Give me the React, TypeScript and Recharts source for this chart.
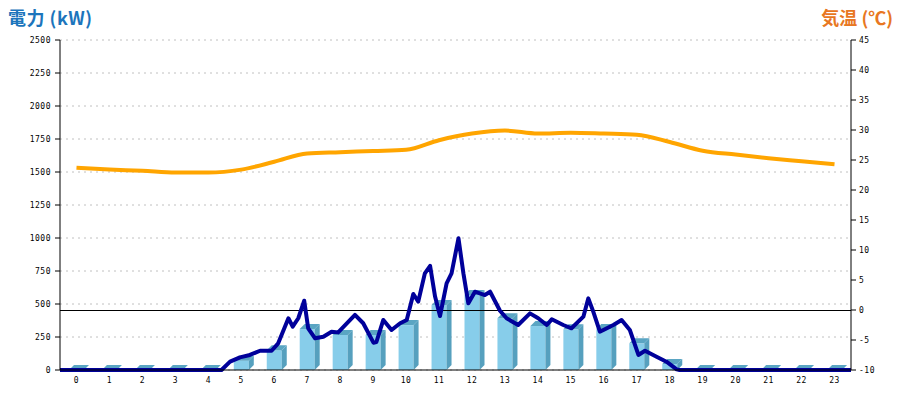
import React from 'react'
import {
  ComposedChart,
  Bar,
  Line,
  XAxis,
  YAxis,
  CartesianGrid,
  ReferenceLine,
} from 'recharts'

// hourly categories
const hours = Array.from({ length: 24 }, (_, i) => String(i))

// hourly power (kW), bars
const hourlyPower = [0, 0, 0, 0, 0, 70, 150, 310, 265, 265, 340, 492, 568, 392, 333, 308, 310, 202, 45, 0, 0, 0, 0, 0]

// hourly temperature (°C)
const hourlyTemp = [23.7, 23.4, 23.2, 22.9, 22.9, 23.4, 24.7, 26.1, 26.3, 26.5, 26.7, 28.3, 29.4, 29.9, 29.4, 29.55, 29.4, 29.2, 28.0, 26.55, 25.9, 25.3, 24.8, 24.3]

// detailed power line: time in hours and value in kW
const powerTimes = [0, 4.9, 5.16, 5.46, 5.76, 6.07, 6.42, 6.62, 6.93, 7.06, 7.23, 7.41, 7.53, 7.74, 7.99, 8.24, 8.44, 8.95, 9.2, 9.51, 9.6, 9.81, 10.06, 10.32, 10.52, 10.72, 10.87, 11.07, 11.23, 11.38, 11.53, 11.73, 11.88, 12.09, 12.24, 12.39, 12.59, 12.89, 13.05, 13.35, 13.55, 13.9, 14.26, 14.51, 14.77, 14.92, 15.27, 15.52, 15.88, 16.03, 16.18, 16.38, 16.79, 17.04, 17.29, 17.55, 17.75, 18.1, 18.4, 18.71, 18.8, 24]
const powerValues = [0, 0, 63, 96, 114, 146, 146, 202, 392, 328, 392, 525, 316, 240, 252, 290, 285, 417, 354, 207, 212, 379, 303, 354, 379, 576, 518, 732, 788, 556, 409, 657, 732, 998, 732, 505, 593, 568, 593, 449, 392, 341, 429, 392, 341, 384, 341, 316, 404, 543, 442, 290, 341, 379, 303, 114, 146, 101, 63, 5, 0, 0]

const kwTicks = [0, 250, 500, 750, 1000, 1250, 1500, 1750, 2000, 2250, 2500]
const tempTicks = [-10, -5, 0, 5, 10, 15, 20, 25, 30, 35, 40, 45]

const hourlyData = hours.map((h, i) => ({ hour: h, kw: hourlyPower[i], temp: hourlyTemp[i] }))
const powerData = powerTimes.map((t, i) => ({ t, kw: powerValues[i] }))

const DEPTH = 5

function Bar3D(props: any) {
  const { x, y, width, height } = props
  const h = Math.max(0, height || 0)
  const d = DEPTH
  return (
    <g>
      <rect x={x} y={y} width={width} height={h} fill="#87CDEA" />
      <polygon
        points={`${x + width},${y} ${x + width + d},${y - d} ${x + width + d},${y + h - d} ${x + width},${y + h}`}
        fill="#56A0BE"
      />
      <polygon
        points={`${x},${y} ${x + d},${y - d} ${x + width + d},${y - d} ${x + width},${y}`}
        fill="#5AA5C3"
      />
    </g>
  )
}

const tickStyle = { fontSize: 8, fontFamily: 'DejaVu Sans Mono', fill: '#000', letterSpacing: 0.5 }

export default function App() {
  return (
    <div style={{ position: 'relative', width: 900, height: 400, margin: -8, background: '#fff' }}>
      <div
        style={{
          position: 'absolute',
          left: 8,
          top: 4,
          fontFamily: 'Noto Sans CJK JP',
          fontWeight: 'bold',
          fontSize: 18,
          color: '#1c75bc',
          whiteSpace: 'nowrap',
          letterSpacing: 0.5,
        }}
      >
        電力 (kW)
      </div>
      <div
        style={{
          position: 'absolute',
          right: 7,
          top: 4,
          fontFamily: 'Noto Sans CJK JP',
          fontWeight: 'bold',
          fontSize: 18,
          color: '#e87722',
          whiteSpace: 'nowrap',
        }}
      >
        気温 (℃)
      </div>
      <ComposedChart
        width={900}
        height={400}
        data={hourlyData}
        margin={{ top: 40, right: 0, bottom: 0, left: 0 }}
        barCategoryGap={0}
      >
        <CartesianGrid
          xAxisId="cat"
          yAxisId="kw"
          vertical={false}
          stroke="#c0c0c0"
          strokeDasharray="2 4"
        />
        <XAxis
          xAxisId="cat"
          dataKey="hour"
          interval={0}
          tickLine={false}
          tickSize={0}
          tickMargin={7}
          height={30}
          axisLine={{ stroke: '#000' }}
          tick={tickStyle}
        />
        <XAxis xAxisId="t" type="number" dataKey="t" domain={[0, 24]} hide allowDataOverflow />
        <YAxis
          yAxisId="kw"
          width={60}
          domain={[0, 2500]}
          ticks={kwTicks}
          interval={0}
          tickSize={5}
          tickMargin={4}
          axisLine={{ stroke: '#000' }}
          tickLine={{ stroke: '#000' }}
          tick={tickStyle}
        />
        <YAxis
          yAxisId="temp"
          orientation="right"
          width={49}
          domain={[-10, 45]}
          ticks={tempTicks}
          interval={0}
          tickSize={5}
          tickMargin={3}
          axisLine={{ stroke: '#000' }}
          tickLine={{ stroke: '#000' }}
          tick={tickStyle}
        />
        <Bar
          xAxisId="cat"
          yAxisId="kw"
          dataKey="kw"
          barSize={15}
          shape={Bar3D}
          isAnimationActive={false}
        />
        <ReferenceLine
          xAxisId="cat"
          yAxisId="temp"
          y={0}
          stroke="#000"
          strokeWidth={1}
          shapeRendering="crispEdges"
        />
        <Line
          xAxisId="t"
          yAxisId="kw"
          data={powerData}
          dataKey="kw"
          type="linear"
          stroke="#00009a"
          strokeWidth={4}
          strokeLinejoin="round"
          dot={false}
          activeDot={false}
          isAnimationActive={false}
        />
        <Line
          xAxisId="cat"
          yAxisId="temp"
          dataKey="temp"
          type="monotone"
          stroke="#ffa500"
          strokeWidth={4}
          dot={false}
          activeDot={false}
          isAnimationActive={false}
        />
      </ComposedChart>
    </div>
  )
}
